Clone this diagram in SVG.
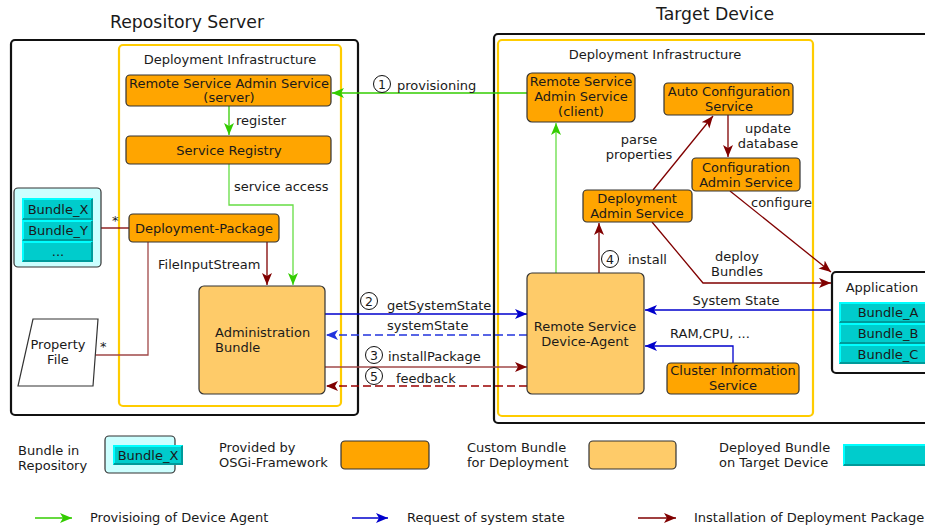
<svg xmlns="http://www.w3.org/2000/svg" width="925" height="531" viewBox="0 0 925 531">
<style>
text{font-family:"DejaVu Sans","Liberation Sans",sans-serif;font-size:13px;fill:#1a1a1a}
.t{font-size:17.3px}
.c{text-anchor:middle}
.lg{font-size:13px}
.cont{fill:#fff;stroke:#111;stroke-width:2.2}
.infra{fill:none;stroke:#ffcc00;stroke-width:2.2}
.osgi{fill:#ffa500;stroke:#333;stroke-width:1.2}
.cust{fill:#fecb69;stroke:#333;stroke-width:1.2}
.repo{fill:#ccffff;stroke:#333;stroke-width:1.2}
.bun{fill:#00cccc;stroke:none}
.bt{stroke:#00ffff;stroke-width:2;fill:none}
.bb{stroke:#009a9a;stroke-width:2;fill:none}
.g{stroke:#33cc00;stroke-width:1.3;fill:none}
.gl{stroke:#66dd44;stroke-width:1.3;fill:none}
.b{stroke:#0000cc;stroke-width:1.3;fill:none}
.bd{stroke:#2233dd;stroke-width:1.3;fill:none;stroke-dasharray:8,4}
.r{stroke:#800000;stroke-width:1.3;fill:none}
.rl{stroke:#a04848;stroke-width:1.3;fill:none}
.rd{stroke:#990000;stroke-width:1.3;fill:none;stroke-dasharray:8,4}
.num{fill:none;stroke:#111;stroke-width:1}
</style>
<defs>
<marker id="mg" markerUnits="userSpaceOnUse" markerWidth="14" markerHeight="12" refX="12" refY="5" orient="auto"><path d="M0,0 L12,5 L0,10 L3,5 z" fill="#33cc00"/></marker>
<marker id="mb" markerUnits="userSpaceOnUse" markerWidth="14" markerHeight="12" refX="12" refY="5" orient="auto"><path d="M0,0 L12,5 L0,10 L3,5 z" fill="#0000cc"/></marker>
<marker id="mb2" markerUnits="userSpaceOnUse" markerWidth="14" markerHeight="12" refX="12" refY="5" orient="auto"><path d="M0,0 L12,5 L0,10 L3,5 z" fill="#2233dd"/></marker>
<marker id="mr" markerUnits="userSpaceOnUse" markerWidth="14" markerHeight="12" refX="12" refY="5" orient="auto"><path d="M0,0 L12,5 L0,10 L3,5 z" fill="#800000"/></marker>
</defs>

<text class="t c" x="187" y="28">Repository Server</text>
<text class="t c" x="715" y="20">Target Device</text>

<g id="repository-server"><rect class="cont" x="11" y="40" width="347" height="375" rx="4"/></g>
<g id="repo-infra"><rect class="infra" x="119" y="45" width="222" height="361" rx="4"/><text class="c" x="230" y="64">Deployment Infrastructure</text></g>
<g id="target-device"><rect class="cont" x="494" y="34" width="440" height="389" rx="4"/></g>
<g id="target-infra"><rect class="infra" x="498" y="40" width="315" height="376" rx="4"/><text class="c" x="655" y="59">Deployment Infrastructure</text></g>

<g id="connectors">
<path class="g" d="M527,93 H332" marker-end="url(#mg)"/>
<path class="g" d="M229,106 V135" marker-end="url(#mg)"/>
<path class="gl" d="M229,164 V205 H293 V285" marker-end="url(#mg)"/>
<path class="gl" d="M556,273 V123" marker-end="url(#mg)"/>
<path class="b" d="M325,314 H527" marker-end="url(#mb)"/>
<path class="bd" d="M527,335 H326" marker-end="url(#mb2)"/>
<path class="b" d="M832,310 H645" marker-end="url(#mb)"/>
<path class="b" d="M733,363 V346 H645" marker-end="url(#mb)"/>
<path class="r" d="M267,242 V285" marker-end="url(#mr)"/>
<path class="rl" d="M148,242 V355 H95"/>
<path class="r" d="M101,228 H129"/>
<path class="rl" d="M325,367 H527" marker-end="url(#mr)"/>
<path class="rd" d="M527,386 H326" marker-end="url(#mr)"/>
<path class="r" d="M599,273 V223" marker-end="url(#mr)"/>
<path class="r" d="M653,190 L713,116" marker-end="url(#mr)"/>
<path class="r" d="M728,115 V157" marker-end="url(#mr)"/>
<path class="r" d="M652,222 L703,283 H831" marker-end="url(#mr)"/>
<path class="r" d="M730,191 L831,272" marker-end="url(#mr)"/>
<circle class="num" cx="382" cy="84" r="8.5"/><text class="c" x="382" y="89" style="font-size:12.5px">1</text>
<text x="397" y="90">provisioning</text>
<text x="236" y="125">register</text>
<text x="234" y="191">service access</text>
<text x="112" y="225">*</text>
<text x="158" y="269">FileInputStream</text>
<text x="100" y="351">*</text>
<circle class="num" cx="369" cy="301" r="8.5"/><text class="c" x="369" y="306" style="font-size:12.5px">2</text>
<text x="387" y="310">getSystemState</text>
<text x="387" y="330">systemState</text>
<circle class="num" cx="374" cy="355" r="8.5"/><text class="c" x="374" y="360" style="font-size:12.5px">3</text>
<text x="388" y="361">installPackage</text>
<circle class="num" cx="374" cy="376" r="8.5"/><text class="c" x="374" y="381" style="font-size:12.5px">5</text>
<text x="396" y="383">feedback</text>
<text class="c" x="639" y="144">parse</text>
<text class="c" x="639" y="159">properties</text>
<text class="c" x="768" y="133">update</text>
<text class="c" x="768" y="148">database</text>
<text x="751" y="207">configure</text>
<circle class="num" cx="610" cy="259" r="8.5"/><text class="c" x="610" y="264" style="font-size:12.5px">4</text>
<text x="628" y="264">install</text>
<text class="c" x="737" y="261">deploy</text>
<text class="c" x="737" y="276">Bundles</text>
<text class="c" x="736" y="305">System State</text>
<text x="670" y="338">RAM,CPU, ...</text>
</g>

<g id="rsa-server"><rect class="osgi" x="126" y="75" width="205" height="31" rx="4"/><text class="c" x="229" y="88">Remote Service Admin Service</text><text class="c" x="229" y="102">(server)</text></g>
<g id="service-registry"><rect class="osgi" x="126" y="136" width="205" height="28" rx="4"/><text class="c" x="229" y="155">Service Registry</text></g>
<g id="deployment-package"><rect class="osgi" x="129" y="214" width="150" height="28" rx="4"/><text class="c" x="204" y="233">Deployment-Package</text></g>
<g id="repo-bundles"><rect class="repo" x="14" y="188" width="87" height="79" rx="4"/>
<rect class="bun" x="22" y="198" width="71" height="64"/>
<path class="bt" d="M23,219 V199 H92"/><path class="bb" d="M23,219 H92 V199"/>
<path class="bt" d="M23,240 V221 H92"/><path class="bb" d="M23,240 H92 V221"/>
<path class="bt" d="M23,261 V242 H92"/><path class="bb" d="M23,261 H92 V242"/>
<text class="c" x="58" y="214">Bundle_X</text><text class="c" x="58" y="235">Bundle_Y</text><text class="c" x="58" y="256">...</text></g>
<g id="property-file"><path d="M33,319 H98 L93,386 H18 z" fill="#fff" stroke="#333" stroke-width="1.2"/><text class="c" x="58" y="349">Property</text><text class="c" x="58" y="364">File</text></g>
<g id="administration-bundle"><rect class="cust" x="199" y="286" width="126" height="108" rx="5"/><text x="215" y="337">Administration</text><text x="215" y="352">Bundle</text></g>

<g id="rsa-client"><rect class="osgi" x="527" y="73" width="108" height="49" rx="5"/><text class="c" x="581" y="86">Remote Service</text><text class="c" x="581" y="101">Admin Service</text><text class="c" x="581" y="116">(client)</text></g>
<g id="auto-config"><rect class="osgi" x="664" y="83" width="129" height="32" rx="4"/><text class="c" x="729" y="96">Auto Configuration</text><text class="c" x="729" y="111">Service</text></g>
<g id="config-admin"><rect class="osgi" x="692" y="158" width="108" height="33" rx="4"/><text class="c" x="746" y="172">Configuration</text><text class="c" x="746" y="187">Admin Service</text></g>
<g id="deployment-admin"><rect class="osgi" x="583" y="190" width="109" height="32" rx="4"/><text class="c" x="637" y="203">Deployment</text><text class="c" x="637" y="218">Admin Service</text></g>
<g id="device-agent"><rect class="cust" x="527" y="273" width="117" height="121" rx="5"/><text class="c" x="585" y="331">Remote Service</text><text class="c" x="585" y="346">Device-Agent</text></g>
<g id="cluster-info"><rect class="osgi" x="667" y="363" width="132" height="31" rx="4"/><text class="c" x="733" y="375">Cluster Information</text><text class="c" x="733" y="390">Service</text></g>
<g id="application"><rect class="cont" x="832" y="272" width="100" height="101" rx="4"/><text class="c" x="882" y="292">Application</text>
<rect class="bun" x="839" y="302" width="90" height="62"/>
<path class="bt" d="M840,322 V303 H930"/><path class="bb" d="M840,322 H930"/>
<path class="bt" d="M840,343 V324 H930"/><path class="bb" d="M840,343 H930"/>
<path class="bt" d="M840,363 V345 H930"/><path class="bb" d="M840,363 H930"/>
<text class="c" x="888" y="317">Bundle_A</text><text class="c" x="888" y="338">Bundle_B</text><text class="c" x="888" y="359">Bundle_C</text></g>

<g id="legend">
<text class="lg" x="18" y="455">Bundle in</text><text class="lg" x="18" y="470">Repository</text>
<rect class="repo" x="105" y="436" width="70" height="37" rx="4"/>
<rect class="bun" x="113" y="445" width="70" height="20"/>
<path class="bt" d="M114,464 V446 H182"/><path class="bb" d="M114,464 H182 V446"/>
<text class="c" x="148" y="460">Bundle_X</text>
<text class="lg" x="219" y="452">Provided by</text><text class="lg" x="219" y="467">OSGi-Framework</text>
<rect class="osgi" x="341" y="441" width="88" height="28" rx="4"/>
<text class="lg" x="467" y="452">Custom Bundle</text><text class="lg" x="467" y="467">for Deployment</text>
<rect class="cust" x="589" y="441" width="87" height="28" rx="4"/>
<text class="lg" x="719" y="452">Deployed Bundle</text><text class="lg" x="719" y="467">on Target Device</text>
<rect class="bun" x="843" y="444" width="90" height="22"/>
<path class="bt" d="M844,465 V445 H930"/><path class="bb" d="M844,465 H930"/>
<path class="g" d="M35,518 H72" marker-end="url(#mg)"/><text class="lg" x="90" y="522">Provisioing of Device Agent</text>
<path class="b" d="M352,518 H388" marker-end="url(#mb)"/><text class="lg" x="407" y="522">Request of system state</text>
<path class="r" d="M638,518 H676" marker-end="url(#mr)"/><text class="lg" x="694" y="522">Installation of Deployment Package</text>
</g>
</svg>
